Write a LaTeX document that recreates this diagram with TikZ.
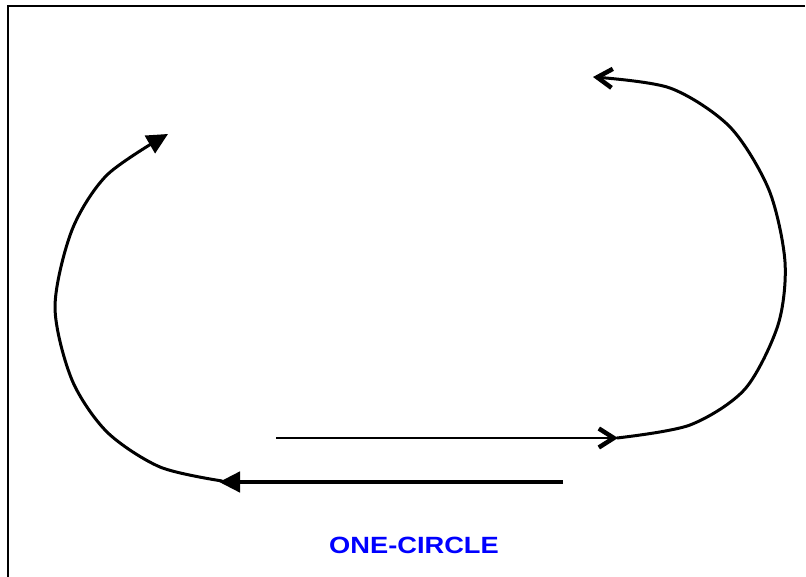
\documentclass[tikz,border=0pt]{standalone}
\usepackage{fontspec}
\setmainfont{Liberation Sans}
\usetikzlibrary{arrows.meta}
\begin{document}
\begin{tikzpicture}[x=1pt,y=-1pt,
  frameline/.style={line width=2pt},
  arcline/.style={line width=3pt, line cap=round},
  filledhead/.style={-{Triangle[length=21pt,width=20pt]}},
  chevronhead/.style={-{Straight Barb[length=15pt,width=19pt,line width=4.5pt]}},
  labeltext/.style={text=blue, font=\fontsize{23.5}{26}\selectfont\bfseries, inner sep=0pt, xscale=1.16, transform shape}]
\useasboundingbox (0,0) rectangle (806,577);
% frame (left and top edges)
\coordinate (fbl) at (8,577);
\coordinate (ftl) at (8,6);
\coordinate (ftr) at (805,6);
\draw[frameline] (fbl) -- (ftl) -- (ftr);
% left arc
\coordinate (l1) at (222,481);
\coordinate (l2) at (160,467);
\coordinate (l3) at (107,432);
\coordinate (l4) at (72,380);
\coordinate (l5) at (55,307);
\coordinate (l6) at (72,230);
\coordinate (l7) at (107,175);
\coordinate (l8) at (168,134);
\draw[arcline, filledhead] plot[smooth] coordinates {(l1) (l2) (l3) (l4) (l5) (l6) (l7) (l8)};
% right arc
\coordinate (r1) at (617,438);
\coordinate (r2) at (690,425);
\coordinate (r3) at (745,389);
\coordinate (r4) at (778,325);
\coordinate (r5) at (785,262);
\coordinate (r6) at (769,190);
\coordinate (r7) at (730,127);
\coordinate (r8) at (670,88);
\coordinate (r9) at (593,77);
\draw[arcline, chevronhead] plot[smooth] coordinates {(r1) (r2) (r3) (r4) (r5) (r6) (r7) (r8) (r9)};
% thin arrow
\coordinate (s1) at (276,438);
\coordinate (s2) at (618,438);
\draw[line width=1.6pt, chevronhead] (s1) -- (s2);
% thick arrow
\coordinate (t1) at (563,482);
\coordinate (t2) at (219,482);
\draw[line width=4.5pt, filledhead] (t1) -- (t2);
% label
\node[labeltext, anchor=base] (lbl) at (414,553.3) {ONE-CIRCLE};
\end{tikzpicture}
\end{document}
